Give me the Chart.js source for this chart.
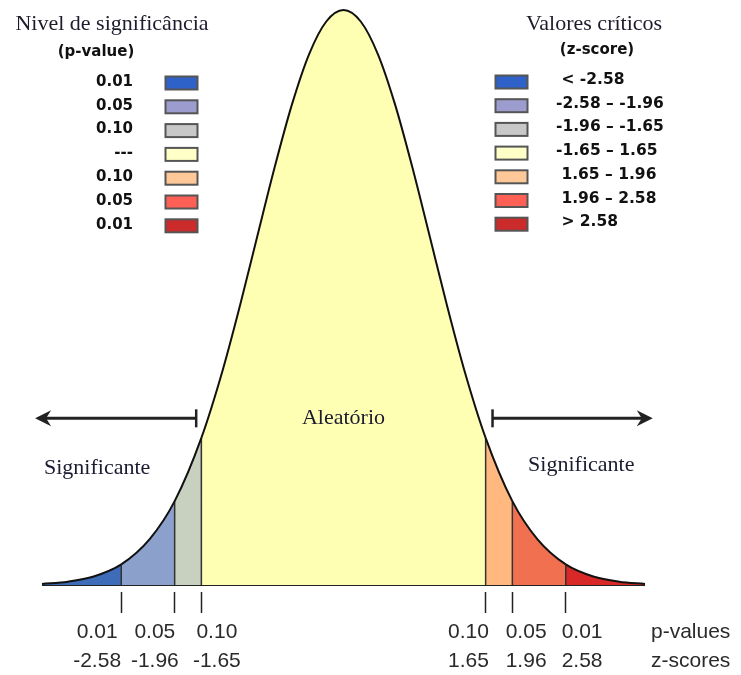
<!DOCTYPE html>
<html>
<head>
<meta charset="utf-8">
<script src="https://cdn.jsdelivr.net/npm/chart.js@4"></script>
<style>
  html, body { margin: 0; padding: 0; background: #fff; }
  #wrap { width: 741px; height: 675px; }
</style>
</head>
<body>
<div id="wrap"><canvas id="chart"></canvas></div>
<script>
// Curve: z-score and height relative to the peak
const curveZ = [-3.5, -3.2, -2.9, -2.58, -2.25, -1.96, -1.65, -1.4, -1.2, -1.0, -0.8, -0.6, -0.4, -0.2, 0,
                0.2, 0.4, 0.6, 0.8, 1.0, 1.2, 1.4, 1.65, 1.96, 2.25, 2.58, 2.9, 3.2, 3.5];
const curveH = [0.002, 0.006, 0.015, 0.036, 0.08, 0.146, 0.256, 0.375, 0.487, 0.607, 0.726, 0.835, 0.923, 0.98, 1.0,
                0.98, 0.923, 0.835, 0.726, 0.607, 0.487, 0.375, 0.256, 0.146, 0.08, 0.036, 0.015, 0.006, 0.002];

// Critical values (z-scores) and the curve height at each one
const boundZ = [-2.58, -1.96, -1.65, 1.65, 1.96, 2.58];
const boundH = [0.036, 0.146, 0.256, 0.256, 0.146, 0.036];

// Axis tick labels
const pLabels = ['0.01', '0.05', '0.10', '0.10', '0.05', '0.01'];
const zLabels = ['-2.58', '-1.96', '-1.65', '1.65', '1.96', '2.58'];

// Legend texts
const legendP = ['0.01', '0.05', '0.10', '---', '0.10', '0.05', '0.01'];
const legendZ = [' < -2.58', '-2.58 \u2013 -1.96', '-1.96 \u2013 -1.65', '-1.65 \u2013 1.65',
                 ' 1.65 \u2013 1.96', ' 1.96 \u2013 2.58', ' > 2.58'];

// Colours of the seven regions (fill on the curve, and legend boxes)
const fillColors = ['#3e6cb8', '#8ca0cc', '#c8d0c0', '#ffffb4', '#ffb880', '#f07050', '#d82828'];
const legendColors = ['#2f62c8', '#9c9ccf', '#c8c8c8', '#ffffc8', '#ffc898', '#ff6055', '#cc2b2b'];

// where the tick labels sit (they are not centred on the tick marks in the original)
const labelAt = [-2.86, -2.19, -1.47, 1.45, 2.12, 2.77, 4.03];

function regionOf(z) {
    return boundZ.filter(b => b < z).length;
}

const curveData = curveZ.map((z, i) => ({ x: z, y: curveH[i] }));

// vertical separators, split by gaps
const sepData = [];
boundZ.forEach((z, i) => {
    sepData.push({ x: z, y: 0 }, { x: z, y: boundH[i] }, { x: z, y: null });
});

const decor = {
    id: 'decor',
    afterDraw(chart) {
        const ctx = chart.ctx;
        const sx = chart.scales.x, sy = chart.scales.y;
        const px = v => sx.getPixelForValue(v);
        const py = v => sy.getPixelForValue(v);
        ctx.save();

        // legend titles
        ctx.fillStyle = '#1c1c2c';
        ctx.font = '22px "Liberation Serif"';
        ctx.textAlign = 'center';
        ctx.textBaseline = 'alphabetic';
        ctx.fillText('Nivel de significância', 112, 30);
        ctx.fillText('Valores críticos', 594, 30);

        ctx.fillStyle = '#111';
        ctx.font = 'bold 15px "DejaVu Sans"';
        ctx.textBaseline = 'middle';
        ctx.fillText('(p-value)', 96, 52);
        ctx.fillText('(z-score)', 597, 50);

        const box = (x, y, c) => {
            ctx.fillStyle = c;
            ctx.fillRect(x, y - 6.5, 32, 13);
            ctx.strokeStyle = '#555';
            ctx.lineWidth = 2;
            ctx.strokeRect(x, y - 6.5, 32, 13);
        };

        legendP.forEach((t, i) => {
            const y = 82 + i * 23.8;
            ctx.fillStyle = '#111';
            ctx.textAlign = 'right';
            ctx.fillText(t, 133, y);
            box(165.5, y + 1, legendColors[i]);
        });
        ctx.font = 'bold 15.5px "DejaVu Sans"';
        legendZ.forEach((t, i) => {
            const y = 80 + i * 23.7;
            ctx.fillStyle = '#111';
            ctx.textAlign = 'left';
            ctx.fillText(t, 556, y);
            box(495.5, y + 2, legendColors[i]);
        });

        // annotations on the curve
        ctx.fillStyle = '#1a1a30';
        ctx.font = '22px "Liberation Serif"';
        ctx.textAlign = 'center';
        ctx.fillText('Aleatório', px(0), py(0.29));
        ctx.fillText('Significante', px(-2.86), py(0.203));
        ctx.fillText('Significante', px(2.76), py(0.209));

        // arrows
        const arrow = (from, to, h) => {
            const x1 = px(from), x2 = px(to), y = py(h);
            const dir = Math.sign(x2 - x1);
            ctx.strokeStyle = '#222';
            ctx.fillStyle = '#222';
            ctx.lineWidth = 3;
            ctx.beginPath();
            ctx.moveTo(x1, y);
            ctx.lineTo(x2 - dir * 8, y);
            ctx.stroke();
            ctx.lineWidth = 2.5;
            ctx.beginPath();
            ctx.moveTo(x1, y - 9);
            ctx.lineTo(x1, y + 9);
            ctx.stroke();
            ctx.beginPath();
            ctx.moveTo(x2, y);
            ctx.lineTo(x2 - dir * 16, y - 8);
            ctx.lineTo(x2 - dir * 11, y);
            ctx.lineTo(x2 - dir * 16, y + 8);
            ctx.closePath();
            ctx.fill();
        };
        arrow(-1.71, -3.58, 0.29);
        arrow(1.73, 3.59, 0.29);

        ctx.restore();
    }
};

new Chart(document.getElementById('chart'), {
    type: 'line',
    data: {
        datasets: [{
            data: curveData,
            borderColor: '#111',
            borderWidth: 2,
            pointRadius: 0,
            cubicInterpolationMode: 'monotone',
            fill: 'origin',
            backgroundColor: fillColors[3],
            clip: false,
            segment: {
                backgroundColor: c => fillColors[regionOf((c.p0.parsed.x + c.p1.parsed.x) / 2)]
            }
        }, {
            data: sepData,
            borderColor: '#333',
            borderWidth: 1.5,
            pointRadius: 0,
            fill: false,
            spanGaps: false
        }]
    },
    options: {
        responsive: true,
        maintainAspectRatio: false,
        animation: false,
        events: [],
        layout: { padding: { left: 42, right: 96, top: 10, bottom: 0 } },
        plugins: {
            legend: { display: false },
            tooltip: { enabled: false },
            filler: { drawTime: 'beforeDatasetsDraw' }
        },
        scales: {
            x: {
                type: 'linear',
                min: -3.5,
                max: 3.5,
                border: { display: false },
                grid: { drawOnChartArea: false, drawTicks: true, tickLength: 21, tickWidth: 1.5, tickColor: '#222' },
                ticks: { display: false },
                afterBuildTicks: s => { s.ticks = boundZ.map(v => ({ value: v })); },
                afterFit: s => { s.paddingLeft = 0; s.paddingRight = 0; s.height = 21; }
            },
            x2: {
                type: 'linear',
                position: 'bottom',
                min: -3.5,
                max: 3.5,
                border: { display: false },
                grid: { display: false, drawTicks: false },
                ticks: {
                    autoSkip: false,
                    maxRotation: 0,
                    padding: 4.5,
                    color: '#2a2a2a',
                    font: { family: '"Liberation Sans"', size: 21, lineHeight: 1.38 },
                    callback: (v, i) => i < pLabels.length ? [pLabels[i], zLabels[i]] : ['p-values', 'z-scores']
                },
                afterBuildTicks: s => { s.ticks = labelAt.map(v => ({ value: v })); },
                afterFit: s => { s.paddingLeft = 0; s.paddingRight = 0; s.height = 62; }
            },
            y: {
                min: -0.012,
                max: 1.0,
                border: { display: false },
                grid: {
                    drawTicks: false,
                    lineWidth: 2,
                    color: c => c.tick && c.tick.value === 0 ? '#222' : 'rgba(0,0,0,0)'
                },
                ticks: { display: false },
                afterBuildTicks: s => { s.ticks = [{ value: 0 }]; }
            }
        }
    },
    plugins: [decor]
});
</script>
</body>
</html>
